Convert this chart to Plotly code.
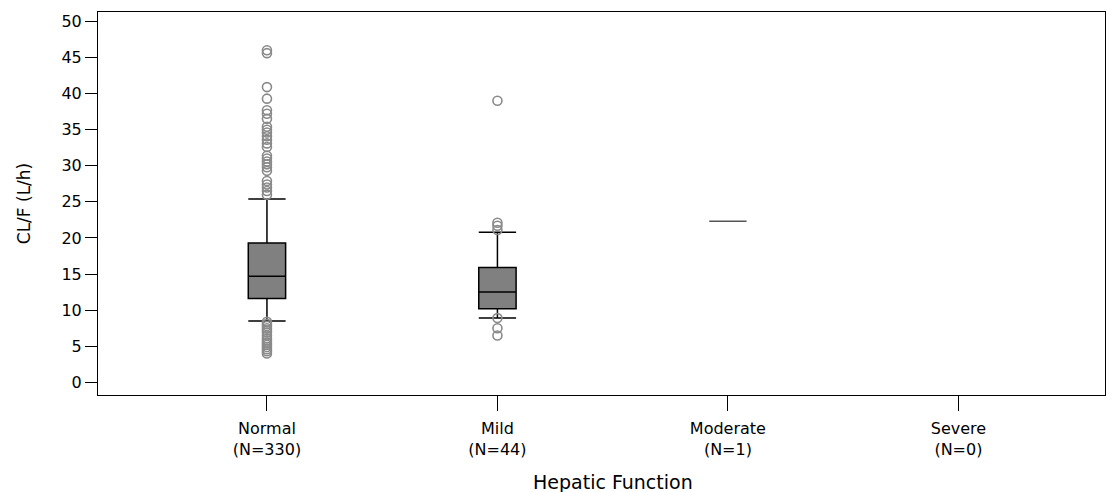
import plotly.graph_objects as go

# Hepatic function groups and their box statistics for CL/F (L/h)
groups = ["Normal", "Mild", "Moderate", "Severe"]
group_n = [330, 44, 1, 0]
positions = [0, 1, 2, 3]

q1_vals = [11.6, 10.2, 22.3]
median_vals = [14.7, 12.5, 22.3]
q3_vals = [19.3, 15.9, 22.3]
lower_whisker = [8.5, 8.9, 22.3]
upper_whisker = [25.4, 20.8, 22.3]

# Values beyond the whiskers
normal_outliers = [46.0, 45.6, 40.9, 39.3, 37.7, 37.2, 36.5, 35.4, 35.0, 34.6,
                   34.1, 33.6, 33.1, 32.6, 31.4, 31.0, 30.6, 30.2, 29.8, 29.3,
                   27.9, 27.4, 27.0, 26.5, 26.0,
                   8.4, 8.1, 7.8, 7.5, 7.2, 6.9, 6.5, 6.1, 5.8, 5.5, 5.2,
                   4.9, 4.6, 4.3, 4.0]
mild_outliers = [39.0, 22.1, 21.7, 21.1, 8.9, 7.5, 6.5]

y_ticks = [0, 5, 10, 15, 20, 25, 30, 35, 40, 45, 50]

FONT = "DejaVu Sans"

fig = go.Figure()

box_colors = ["black", "black", "#555555"]
for i in range(len(q1_vals)):
    fig.add_trace(go.Box(
        x=[positions[i]],
        q1=[q1_vals[i]], median=[median_vals[i]], q3=[q3_vals[i]],
        lowerfence=[lower_whisker[i]], upperfence=[upper_whisker[i]],
        width=0.162, whiskerwidth=1,
        fillcolor="#808080",
        line=dict(color=box_colors[i], width=1.5),
        boxpoints=False, hoverinfo="skip", showlegend=False,
    ))

for pos, pts in [(positions[0], normal_outliers), (positions[1], mild_outliers)]:
    fig.add_trace(go.Scatter(
        x=[pos] * len(pts), y=pts, mode="markers",
        marker=dict(symbol="circle-open", size=9, color="#8a8a8a",
                    line=dict(width=1.6, color="#8a8a8a")),
        showlegend=False, hoverinfo="skip",
    ))

tick_text = [f"{g}<br>(N={n})" for g, n in zip(groups, group_n)]

fig.update_layout(
    width=1116, height=492,
    margin=dict(l=98, r=11, t=12, b=97),
    plot_bgcolor="white", paper_bgcolor="white",
    font=dict(family=FONT, color="black"),
    showlegend=False,
    xaxis=dict(
        range=[-0.733, 3.636],
        tickmode="array", tickvals=positions, ticktext=tick_text,
        tickfont=dict(size=16, family=FONT),
        ticks="outside", ticklen=15, tickcolor="black", tickwidth=1,
        ticklabelstandoff=4,
        showline=True, linecolor="black", linewidth=1, mirror=True,
        showgrid=False, zeroline=False,
    ),
    yaxis=dict(
        range=[-1.75, 51.3],
        tickmode="array", tickvals=y_ticks,
        tickfont=dict(size=16, family=FONT),
        ticks="outside", ticklen=12, tickcolor="black", tickwidth=1,
        showline=True, linecolor="black", linewidth=1, mirror=True,
        showgrid=False, zeroline=False,
        title=dict(text="CL/F (L/h)", font=dict(size=17, family=FONT), standoff=26),
    ),
    annotations=[dict(
        text="Hepatic Function", x=1.5, xref="x", y=0, yref="paper",
        yshift=-87, yanchor="middle", showarrow=False,
        font=dict(size=19, family=FONT, color="black"),
    )],
)

fig.write_html("out.html")
